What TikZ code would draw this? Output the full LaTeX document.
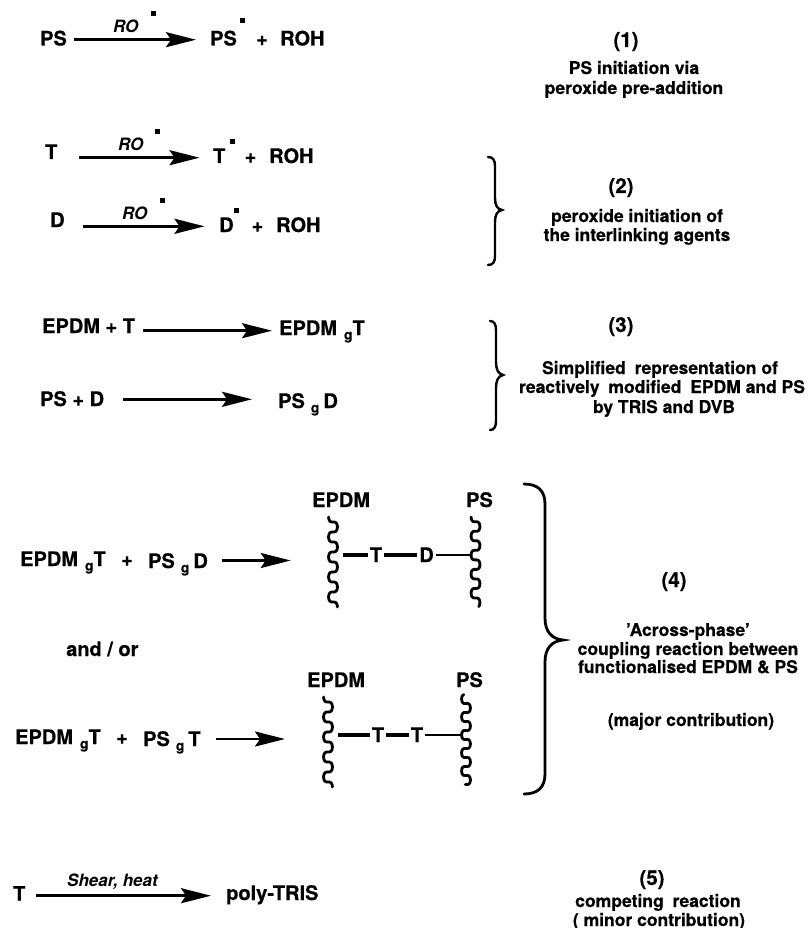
\documentclass[tikz,border=0pt]{standalone}
\usepackage{fontspec}
\setmainfont{TeX Gyre Heros}[BoldFeatures={FakeBold=0.5}]
\usetikzlibrary{arrows.meta}
\newcommand{\gs}{\raisebox{-4.5pt}{\fontsize{14}{14}\selectfont g}}
\tikzset{
  big/.style={font=\fontsize{20}{20}\selectfont\bfseries,inner sep=0pt,anchor=base west},
  num/.style={font=\fontsize{20.5}{20}\selectfont\bfseries,inner sep=0pt,anchor=base},
  desc/.style={font=\fontsize{17.5}{18}\selectfont\bfseries,inner sep=0pt,anchor=base},
  cond/.style={font=\fontsize{17}{17}\selectfont\bfseries\itshape,inner sep=0pt,anchor=base west},
  rarrow/.style={line width=2.6pt,-{Stealth[length=30pt,width=15pt,inset=5pt]}},
  radical/.style={fill=black,minimum size=5pt,inner sep=0pt},
  brace/.style={line width=2.4pt,line cap=round},
  wave/.style={line width=2.8pt,line cap=round},
  link/.style={line width=3.2pt},
  thinlink/.style={line width=2pt},
  chainT/.style={font=\fontsize{20}{20}\selectfont\bfseries,inner sep=2pt,anchor=base},
}
% centre x, start y, length, degrees per unit, offset of the first left bump
\newcommand{\wavy}[5]{\draw[wave] plot[domain=0:#3,samples=120,smooth] ({#1-4.4*cos((\x-#5)*#4)},{#2+\x+1.6*sin((\x-#5)*#4*2)});}
\begin{document}
\begin{tikzpicture}[x=1pt,y=-1pt]
\useasboundingbox (0,0) rectangle (807,928);
% row 1
\node[big] (ps1) at (40,45.5) {PS};
\coordinate (a1s) at (74,39.7); \coordinate (a1e) at (196,39.7);
\draw[rarrow] (a1s) -- (a1e);
\node[cond] (ro1) at (113,33) {RO};
\node[radical] (ro1d) at (153,14) {};
\node[big] (ps1p) at (210,45.5) {PS};
\node[radical] (ps1d) at (242,21) {};
\node[big] (plus1) at (256,45.5) {+};
\node[big] (roh1) at (280,45.5) {ROH};
% row T
\node[big] (t2) at (45,159) {T};
\coordinate (a2s) at (78.5,157.7); \coordinate (a2e) at (199.5,157.7);
\draw[rarrow] (a2s) -- (a2e);
\node[cond] (ro2) at (118,151) {RO};
\node[radical] (ro2d) at (157,132) {};
\node[big] (t2p) at (213,163) {T};
\node[radical] (t2d) at (232,142) {};
\node[big] (plus2) at (244.5,163) {+};
\node[big] (roh2) at (269,163) {ROH};
% row D
\node[big] (d3) at (50,227) {D};
\coordinate (a3s) at (83,226.3); \coordinate (a3e) at (204.5,226.3);
\draw[rarrow] (a3s) -- (a3e);
\node[cond] (ro3) at (122,219) {RO};
\node[radical] (ro3d) at (162,200) {};
\node[big] (d3p) at (219,232) {D};
\node[radical] (d3d) at (236.5,210) {};
\node[big] (plus3) at (251.5,232) {+};
\node[big] (roh3) at (276,232) {ROH};
% brace 2
\draw[brace] (488,157) .. controls (493,157) and (495,160) .. (495,166) -- (495,198) .. controls (495,205) and (497,209) .. (502,210) .. controls (497,211) and (495,215) .. (495,222) -- (495,256) .. controls (495,262) and (493,265) .. (488,265);
% row 3
\node[big] (m4) at (42,333) {EPDM + T};
\coordinate (a4s) at (143,330.7); \coordinate (a4e) at (272,330.7);
\draw[rarrow] (a4s) -- (a4e);
\node[big] (p4) at (279,335) {EPDM\kern7pt\gs\kern0pt T};
\node[big] (m5) at (40,406) {PS + D};
\coordinate (a5s) at (123,399.3); \coordinate (a5e) at (252,399.3);
\draw[rarrow] (a5s) -- (a5e);
\node[big] (p5) at (278,408) {PS\kern6pt\gs\kern4pt D};
% brace 3
\draw[brace] (490,321) .. controls (494,321) and (496,324) .. (496,330) -- (496,362) .. controls (496,369) and (498,374) .. (503,375) .. controls (498,376) and (496,381) .. (496,388) -- (496,421) .. controls (496,427) and (494,430) .. (490,430);
% row 4
\node[big] (m6a) at (20,566) {EPDM\kern7pt\gs\kern0pt T};
\node[big] (m6p) at (121,566) {+};
\node[big] (m6b) at (148,568) {PS\kern6pt\gs\kern4pt D};
\coordinate (a6s) at (221.7,560.5); \coordinate (a6e) at (290.7,560.5);
\draw[rarrow] (a6s) -- (a6e);
\node[big] (ao) at (66,656) {and / or};
\node[big] (m7a) at (15,744) {EPDM\kern7pt\gs\kern0pt T};
\node[big] (m7p) at (116,744) {+};
\node[big] (m7b) at (143,746) {PS\kern6pt\gs\kern4pt T};
\coordinate (a7s) at (216,739); \coordinate (a7e) at (285,739);
\draw[rarrow] (a7s) -- (a7e);
% chain 1
\node[big] (e1) at (312,507) {EPDM};
\node[big] (s1) at (466,507) {PS};
\wavy{333}{517}{90}{18}{0}
\wavy{475.5}{517}{88}{18.9}{0}
\coordinate (w1l) at (343,555); \coordinate (w1r) at (471,555);
\node[chainT] (c1t) at (376,562) {T};
\node[chainT] (c1d) at (426.5,562) {D};
\draw[link] (w1l) -- (w1l -| c1t.west);
\draw[link] (c1t.east |- w1l) -- (w1l -| c1d.west);
\draw[thinlink] (c1d.east |- w1r) -- (w1r);
% chain 2
\node[big] (e2) at (307,687) {EPDM};
\node[big] (s2) at (456,687) {PS};
\wavy{328}{697}{90}{18}{0}
\wavy{466}{696}{89}{20}{3}
\coordinate (w2l) at (338,735); \coordinate (w2r) at (461,735);
\node[chainT] (c2a) at (378,742) {T};
\node[chainT] (c2b) at (417,742) {T};
\draw[link] (w2l) -- (w2l -| c2a.west);
\draw[link] (c2a.east |- w2l) -- (w2l -| c2b.west);
\draw[thinlink] (c2b.east |- w2r) -- (w2r);
% brace 4
\draw[brace,line width=2.8pt] (524,484) .. controls (538,484) and (545,491) .. (545,504) -- (545,618) .. controls (545,632) and (552,639) .. (563,640) .. controls (552,641) and (545,648) .. (545,662) -- (545,774) .. controls (545,787) and (538,794) .. (524,794);
% row 5
\node[big] (t8) at (13,900.7) {T};
\coordinate (a8s) at (36,895.7); \coordinate (a8e) at (211,895.7);
\draw[rarrow] (a8s) -- (a8e);
\node[cond] (sh) at (67,886) {Shear, heat};
\node[big] (pt) at (226,900) {poly-TRIS};
% right column
\node[num] (n1) at (626,47) {(1)};
\node[desc] (d1a) at (634,74) {PS initiation via};
\node[desc] (d1b) at (634,94) {peroxide pre-addition};
\node[num] (n2) at (621,193) {(2)};
\node[desc] (d2a) at (637,222) {peroxide initiation of};
\node[desc] (d2b) at (637,241) {the interlinking agents};
\node[num] (n3) at (621,332) {(3)};
\node[desc] (d3a) at (660,374) {Simplified\kern4pt{} representation of};
\node[desc] (d3b) at (662,393) {reactively\kern4pt{} modified\kern4pt{} EPDM and PS};
\node[desc] (d3c) at (664,413) {by TRIS and DVB};
\node[num] (n4) at (674,587) {(4)};
\node[desc] (d4a) at (688,636) {'Across-phase'};
\node[desc] (d4b) at (688,655) {coupling reaction between};
\node[desc] (d4c) at (688,673) {functionalised EPDM \& PS};
\node[desc] (d4d) at (691,726) {(major contribution)};
\node[num] (n5) at (652,885) {(5)};
\node[desc] (d5a) at (658,907) {competing\kern4pt{} reaction};
\node[desc] (d5b) at (659,926) {( minor contribution)};
\end{tikzpicture}
\end{document}
